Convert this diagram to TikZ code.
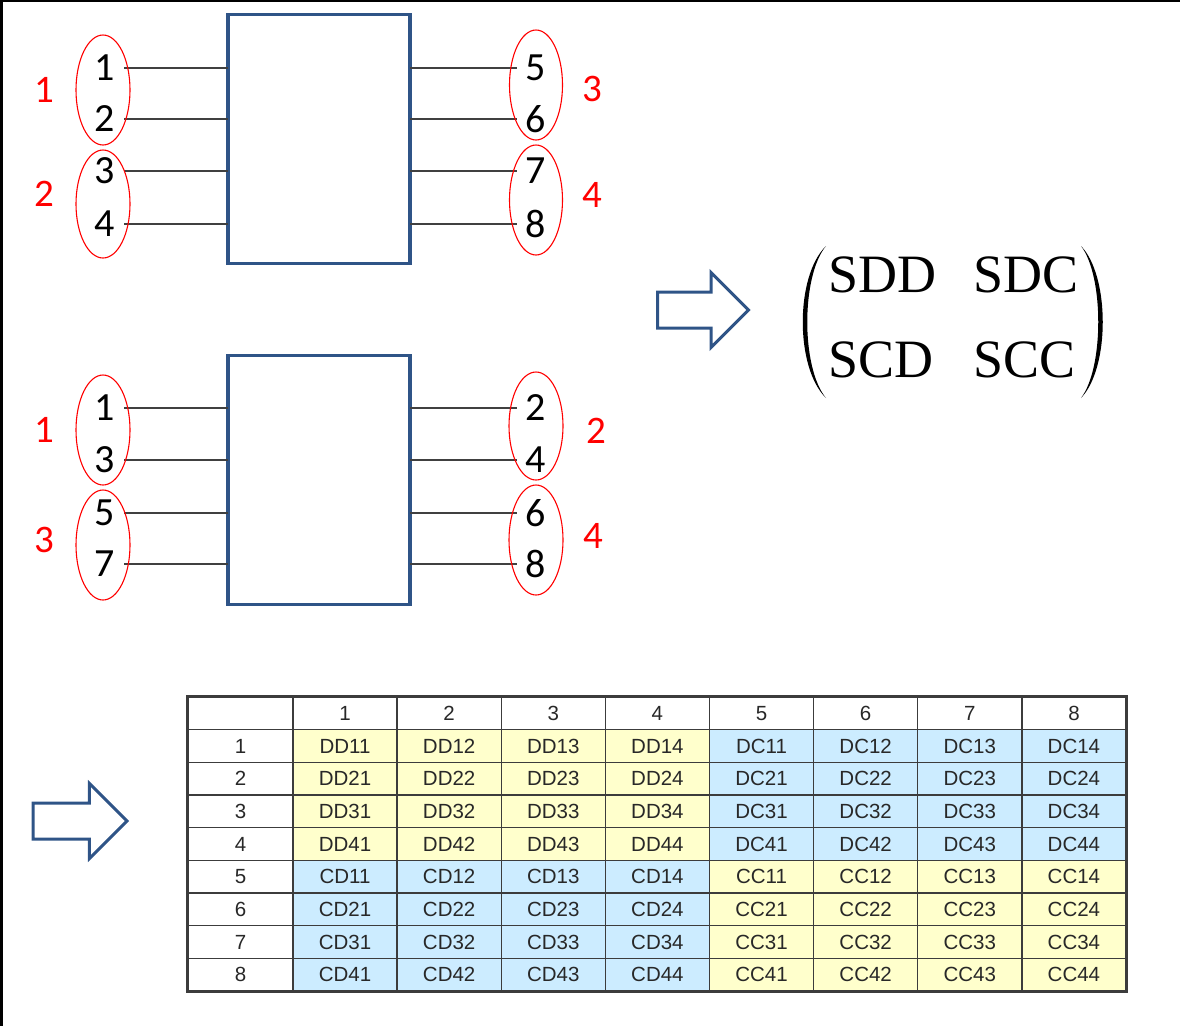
\documentclass[tikz,border=0pt]{standalone}
\usepackage{fontspec}
\setmainfont{Carlito}
\newfontfamily\matfont{Liberation Serif}
\newfontfamily\tabfont{Liberation Sans}
\usetikzlibrary{shapes.geometric,shapes.arrows,positioning}

\definecolor{boxblue}{RGB}{47,84,135}
\definecolor{leadgray}{RGB}{64,64,64}
\definecolor{cellyellow}{RGB}{255,255,204}
\definecolor{cellblue}{RGB}{204,236,255}
\definecolor{tabline}{RGB}{60,60,60}
\definecolor{tabtext}{RGB}{40,40,40}

\begin{document}
\begin{tikzpicture}[
  x=1pt, y=-1pt,
  device/.style={rectangle, draw=boxblue, line width=3.5pt, minimum width=182pt, minimum height=249pt, inner sep=0pt, outer sep=0pt},
  pin/.style={font=\fontsize{40}{40}\selectfont, inner xsep=9pt, inner ysep=0pt},
  lead/.style={draw=leadgray, line width=1.8pt},
  group/.style={ellipse, draw=red, line width=1.1pt, minimum width=54pt, minimum height=110pt, inner sep=0pt, outer sep=0pt},
  grplabel/.style={font=\fontsize{39}{39}\selectfont, text=red, inner sep=0pt},
  bigarrow/.style={single arrow, draw=boxblue, line width=3pt, inner sep=0pt, inner ysep=16.5pt, single arrow head extend=19.5pt},
  entry/.style={font=\fontsize{54}{54}\matfont, inner sep=0pt, anchor=base west},
  cell/.style={rectangle, draw=tabline, line width=1.3pt, minimum height=32.67pt, minimum width=104.125pt, inner sep=0pt, font=\fontsize{20.5}{20.5}\tabfont, text=tabtext}
]
\useasboundingbox (0,0) rectangle (1180,1026);

% frame edges
\draw[line width=4pt] (0,0) -- (1180,0);
\draw[line width=6pt] (0,0) -- (0,1026);

% Upper device: pins 1..8, paired
\node[device] (devA) at (319,139) {};
\node[pin] (a1) at (105,68) {1};
\node[pin] (a2) at (105,119) {2};
\node[pin] (a3) at (105,171) {3};
\node[pin] (a4) at (105,224) {4};
\node[pin] (a5) at (536,68) {5};
\node[pin] (a6) at (536,119) {6};
\node[pin] (a7) at (536,171) {7};
\node[pin] (a8) at (536,224) {8};
\foreach \p in {1,...,4} \draw[lead] (a\p.east) -- (a\p.east -| devA.west);
\foreach \p in {5,...,8} \draw[lead] (devA.east |- a\p.west) -- (a\p.west);

\node[group] (gA1) at (103,90) {};
\node[group, minimum height=108pt] (gA2) at (103,204) {};
\node[group, minimum width=53pt] (gA3) at (536,85) {};
\node[group, minimum width=53pt] (gA4) at (536,200) {};
\node[grplabel, left=22pt of gA1] (lA1) {1};
\node[grplabel, left=22pt of gA2, yshift=10pt] (lA2) {2};
\node[grplabel, right=20pt of gA3, yshift=-4pt] (lA3) {3};
\node[grplabel, right=20pt of gA4, yshift=5pt] (lA4) {4};

% Lower device: odd pins left, even pins right
\node[device] (devB) at (319,480) {};
\node[pin] (b1) at (105,408) {1};
\node[pin] (b3) at (105,460) {3};
\node[pin] (b5) at (105,513) {5};
\node[pin] (b7) at (105,564) {7};
\node[pin] (b2) at (536,408) {2};
\node[pin] (b4) at (536,460) {4};
\node[pin] (b6) at (536,513) {6};
\node[pin] (b8) at (536,564) {8};
\foreach \p in {1,3,5,7} \draw[lead] (b\p.east) -- (b\p.east -| devB.west);
\foreach \p in {2,4,6,8} \draw[lead] (devB.east |- b\p.west) -- (b\p.west);

\node[group] (gB1) at (103,430) {};
\node[group] (gB3) at (103,545) {};
\node[group, minimum height=108pt] (gB2) at (536,426) {};
\node[group] (gB4) at (536,540) {};
\node[grplabel, left=22pt of gB1] (lB1) {1};
\node[grplabel, left=22pt of gB3, yshift=5pt] (lB3) {3};
\node[grplabel, right=23pt of gB2, yshift=-5pt] (lB2) {2};
\node[grplabel, right=20pt of gB4, yshift=4pt] (lB4) {4};

% Mixed-mode S matrix
\node[bigarrow, minimum height=91pt] (toMat) at (694,310) {};
\node[entry] (sdd) at (828,292) {SDD};
\node[entry] (sdc) at (973,292) {SDC};
\node[entry] (scd) at (828,377) {SCD};
\node[entry] (scc) at (973,377) {SCC};
\fill (826,246) .. controls (795,276) and (795,368) .. (826,398)
  .. controls (801,368) and (801,276) .. (826,246);
\fill (1081,246) .. controls (1110,276) and (1110,368) .. (1081,398)
  .. controls (1104,368) and (1104,276) .. (1081,246);

% Table of all 64 terms
\node[bigarrow, minimum height=94pt] (toTab) at (71,821) {};
\node[cell, minimum width=105pt] (t-0-0) at (240.5,713.3) {};
\foreach \c in {1,...,8}
  \node[cell, fill=white] (t-0-\c) at ({293+(\c-0.5)*104.125},713.3) {\c};
\foreach \r in {1,...,8} {
  \node[cell, minimum width=105pt, fill=white] (t-\r-0) at (240.5,{697+(\r+0.5)*32.67}) {\r};
  \foreach \c in {1,...,8} {
    \pgfmathtruncatemacro\i{mod(\r-1,4)+1}
    \pgfmathtruncatemacro\j{mod(\c-1,4)+1}
    \ifnum\r<5 \def\rl{D}\else\def\rl{C}\fi
    \ifnum\c<5 \def\cl{D}\else\def\cl{C}\fi
    \ifx\rl\cl \def\cellfill{cellyellow}\else\def\cellfill{cellblue}\fi
    \node[cell, fill=\cellfill] (t-\r-\c) at ({293+(\c-0.5)*104.125},{697+(\r+0.5)*32.67}) {\rl\cl\i\j};
  }
}
\draw[tabline, line width=2pt] (t-0-0.north west) rectangle (t-8-8.south east);

\end{tikzpicture}
\end{document}
